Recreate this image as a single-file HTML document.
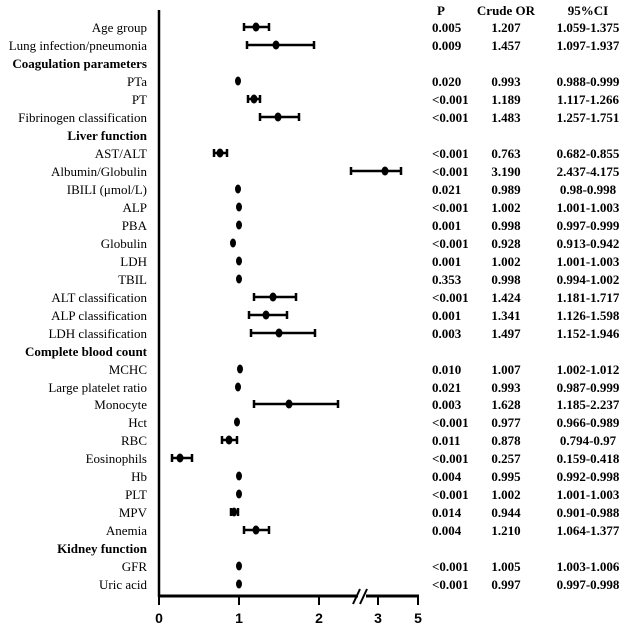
<!DOCTYPE html>
<html><head><meta charset="utf-8"><style>
html,body{margin:0;padding:0;background:#fff;}
svg{display:block;font-family:"Liberation Serif",serif;font-size:13px;}
.l{text-anchor:end;}
.b{font-weight:bold;}
.c{text-anchor:middle;font-weight:bold;}
.p{font-weight:bold;}
.w line{stroke:#000;stroke-width:2.5;}
</style></head><body>
<svg width="629" height="635" viewBox="0 0 629 635">
<!-- axes -->
<line x1="159" y1="10" x2="159" y2="597" stroke="#000" stroke-width="2.5"/>
<line x1="158" y1="596" x2="358" y2="596" stroke="#000" stroke-width="3"/>
<line x1="366" y1="596" x2="419" y2="596" stroke="#000" stroke-width="3"/>
<line x1="353" y1="604" x2="360" y2="589" stroke="#000" stroke-width="2"/>
<line x1="360" y1="604" x2="367" y2="589" stroke="#000" stroke-width="2"/>
<g stroke="#000" stroke-width="2">
<line x1="159" y1="596" x2="159" y2="605"/><line x1="239" y1="596" x2="239" y2="605"/>
<line x1="319" y1="596" x2="319" y2="605"/><line x1="378" y1="596" x2="378" y2="605"/>
<line x1="418" y1="596" x2="418" y2="605"/></g>
<g font-family="Liberation Sans Narrow, Liberation Sans, sans-serif" font-size="14" text-anchor="middle" font-weight="bold">
<text x="159" y="623">0</text><text x="239" y="623">1</text><text x="319" y="623">2</text><text x="378" y="623">3</text><text x="418" y="623">5</text></g>

<!-- labels -->
<g class="l">
<text x="147" y="32">Age group</text>
<text x="147" y="50">Lung infection/pneumonia</text>
<text x="147" y="68" class="b">Coagulation parameters</text>
<text x="147" y="86">PTa</text>
<text x="147" y="104">PT</text>
<text x="147" y="122">Fibrinogen classification</text>
<text x="147" y="140" class="b">Liver function</text>
<text x="147" y="158">AST/ALT</text>
<text x="147" y="176">Albumin/Globulin</text>
<text x="147" y="194">IBILI (μmol/L)</text>
<text x="147" y="212">ALP</text>
<text x="147" y="230">PBA</text>
<text x="147" y="248">Globulin</text>
<text x="147" y="266">LDH</text>
<text x="147" y="284">TBIL</text>
<text x="147" y="302">ALT classification</text>
<text x="147" y="320">ALP classification</text>
<text x="147" y="338">LDH classification</text>
<text x="147" y="356" class="b">Complete blood count</text>
<text x="147" y="374">MCHC</text>
<text x="147" y="392">Large platelet ratio</text>
<text x="147" y="409">Monocyte</text>
<text x="147" y="427">Hct</text>
<text x="147" y="445">RBC</text>
<text x="147" y="463">Eosinophils</text>
<text x="147" y="481">Hb</text>
<text x="147" y="499">PLT</text>
<text x="147" y="517">MPV</text>
<text x="147" y="535">Anemia</text>
<text x="147" y="553" class="b">Kidney function</text>
<text x="147" y="571">GFR</text>
<text x="147" y="589">Uric acid</text>
</g>

<!-- whiskers -->
<g class="w">
<line x1="244" y1="27" x2="269" y2="27"/><line x1="244" y1="23" x2="244" y2="31"/><line x1="269" y1="23" x2="269" y2="31"/>
<line x1="247" y1="45" x2="314" y2="45"/><line x1="247" y1="41" x2="247" y2="49"/><line x1="314" y1="41" x2="314" y2="49"/>
<line x1="248" y1="99" x2="260" y2="99"/><line x1="248" y1="95" x2="248" y2="103"/><line x1="260" y1="95" x2="260" y2="103"/>
<line x1="260" y1="117" x2="299" y2="117"/><line x1="260" y1="113" x2="260" y2="121"/><line x1="299" y1="113" x2="299" y2="121"/>
<line x1="214" y1="153" x2="227" y2="153"/><line x1="214" y1="149" x2="214" y2="157"/><line x1="227" y1="149" x2="227" y2="157"/>
<line x1="351" y1="171" x2="401" y2="171"/><line x1="351" y1="167" x2="351" y2="175"/><line x1="401" y1="167" x2="401" y2="175"/>
<line x1="254" y1="297" x2="296" y2="297"/><line x1="254" y1="293" x2="254" y2="301"/><line x1="296" y1="293" x2="296" y2="301"/>
<line x1="249" y1="315" x2="287" y2="315"/><line x1="249" y1="311" x2="249" y2="319"/><line x1="287" y1="311" x2="287" y2="319"/>
<line x1="251" y1="333" x2="315" y2="333"/><line x1="251" y1="329" x2="251" y2="337"/><line x1="315" y1="329" x2="315" y2="337"/>
<line x1="254" y1="404" x2="338" y2="404"/><line x1="254" y1="400" x2="254" y2="408"/><line x1="338" y1="400" x2="338" y2="408"/>
<line x1="222" y1="440" x2="237" y2="440"/><line x1="222" y1="436" x2="222" y2="444"/><line x1="237" y1="436" x2="237" y2="444"/>
<line x1="172" y1="458" x2="192" y2="458"/><line x1="172" y1="454" x2="172" y2="462"/><line x1="192" y1="454" x2="192" y2="462"/>
<line x1="231" y1="512" x2="238" y2="512"/><line x1="231" y1="508" x2="231" y2="516"/><line x1="238" y1="508" x2="238" y2="516"/>
<line x1="244" y1="530" x2="269" y2="530"/><line x1="244" y1="526" x2="244" y2="534"/><line x1="269" y1="526" x2="269" y2="534"/>
</g>
<!-- dots -->
<g fill="#000">
<ellipse cx="256" cy="27" rx="3.5" ry="4.5"/><ellipse cx="276" cy="45" rx="3.5" ry="4.5"/>
<ellipse cx="238" cy="81" rx="3" ry="4.5"/><ellipse cx="254" cy="99" rx="3.5" ry="4.5"/>
<ellipse cx="278" cy="117" rx="3.5" ry="4.5"/><ellipse cx="220" cy="153" rx="3.5" ry="4.5"/>
<ellipse cx="385" cy="171" rx="3.5" ry="4.5"/><ellipse cx="238" cy="189" rx="3" ry="4.5"/>
<ellipse cx="239" cy="207" rx="3" ry="4.5"/><ellipse cx="239" cy="225" rx="3" ry="4.5"/>
<ellipse cx="233" cy="243" rx="3" ry="4.5"/><ellipse cx="239" cy="261" rx="3" ry="4.5"/>
<ellipse cx="239" cy="279" rx="3" ry="4.5"/><ellipse cx="273" cy="297" rx="3.5" ry="4.5"/>
<ellipse cx="266" cy="315" rx="3.5" ry="4.5"/><ellipse cx="279" cy="333" rx="3.5" ry="4.5"/>
<ellipse cx="240" cy="369" rx="3" ry="4.5"/><ellipse cx="238" cy="387" rx="3" ry="4.5"/>
<ellipse cx="289" cy="404" rx="3.5" ry="4.5"/><ellipse cx="237" cy="422" rx="3" ry="4.5"/>
<ellipse cx="229" cy="440" rx="3.5" ry="4.5"/><ellipse cx="180" cy="458" rx="3.5" ry="4.5"/>
<ellipse cx="239" cy="476" rx="3" ry="4.5"/><ellipse cx="239" cy="494" rx="3" ry="4.5"/>
<ellipse cx="234" cy="512" rx="3" ry="4.5"/><ellipse cx="256" cy="530" rx="3.5" ry="4.5"/>
<ellipse cx="239" cy="566" rx="3" ry="4.5"/><ellipse cx="239" cy="584" rx="3" ry="4.5"/>
</g>

<!-- table -->
<text x="441" y="15" class="c">P</text><text x="506" y="15" class="c">Crude OR</text><text x="588" y="15" class="c">95%CI</text>
<g class="p">
<text x="432" y="32">0.005</text><text x="432" y="50">0.009</text>
<text x="432" y="86">0.020</text><text x="432" y="104">&lt;0.001</text><text x="432" y="122">&lt;0.001</text>
<text x="432" y="158">&lt;0.001</text><text x="432" y="176">&lt;0.001</text><text x="432" y="194">0.021</text>
<text x="432" y="212">&lt;0.001</text><text x="432" y="230">0.001</text><text x="432" y="248">&lt;0.001</text>
<text x="432" y="266">0.001</text><text x="432" y="284">0.353</text><text x="432" y="302">&lt;0.001</text>
<text x="432" y="320">0.001</text><text x="432" y="338">0.003</text>
<text x="432" y="374">0.010</text><text x="432" y="392">0.021</text><text x="432" y="409">0.003</text>
<text x="432" y="427">&lt;0.001</text><text x="432" y="445">0.011</text><text x="432" y="463">&lt;0.001</text>
<text x="432" y="481">0.004</text><text x="432" y="499">&lt;0.001</text><text x="432" y="517">0.014</text>
<text x="432" y="535">0.004</text>
<text x="432" y="571">&lt;0.001</text><text x="432" y="589">&lt;0.001</text>
</g>
<g class="c">
<text x="506" y="32">1.207</text><text x="506" y="50">1.457</text>
<text x="506" y="86">0.993</text><text x="506" y="104">1.189</text><text x="506" y="122">1.483</text>
<text x="506" y="158">0.763</text><text x="506" y="176">3.190</text><text x="506" y="194">0.989</text>
<text x="506" y="212">1.002</text><text x="506" y="230">0.998</text><text x="506" y="248">0.928</text>
<text x="506" y="266">1.002</text><text x="506" y="284">0.998</text><text x="506" y="302">1.424</text>
<text x="506" y="320">1.341</text><text x="506" y="338">1.497</text>
<text x="506" y="374">1.007</text><text x="506" y="392">0.993</text><text x="506" y="409">1.628</text>
<text x="506" y="427">0.977</text><text x="506" y="445">0.878</text><text x="506" y="463">0.257</text>
<text x="506" y="481">0.995</text><text x="506" y="499">1.002</text><text x="506" y="517">0.944</text>
<text x="506" y="535">1.210</text>
<text x="506" y="571">1.005</text><text x="506" y="589">0.997</text>
</g>
<g class="c">
<text x="588" y="32">1.059-1.375</text><text x="588" y="50">1.097-1.937</text>
<text x="588" y="86">0.988-0.999</text><text x="588" y="104">1.117-1.266</text><text x="588" y="122">1.257-1.751</text>
<text x="588" y="158">0.682-0.855</text><text x="588" y="176">2.437-4.175</text><text x="588" y="194">0.98-0.998</text>
<text x="588" y="212">1.001-1.003</text><text x="588" y="230">0.997-0.999</text><text x="588" y="248">0.913-0.942</text>
<text x="588" y="266">1.001-1.003</text><text x="588" y="284">0.994-1.002</text><text x="588" y="302">1.181-1.717</text>
<text x="588" y="320">1.126-1.598</text><text x="588" y="338">1.152-1.946</text>
<text x="588" y="374">1.002-1.012</text><text x="588" y="392">0.987-0.999</text><text x="588" y="409">1.185-2.237</text>
<text x="588" y="427">0.966-0.989</text><text x="588" y="445">0.794-0.97</text><text x="588" y="463">0.159-0.418</text>
<text x="588" y="481">0.992-0.998</text><text x="588" y="499">1.001-1.003</text><text x="588" y="517">0.901-0.988</text>
<text x="588" y="535">1.064-1.377</text>
<text x="588" y="571">1.003-1.006</text><text x="588" y="589">0.997-0.998</text>
</g>
</svg>
</body></html>
